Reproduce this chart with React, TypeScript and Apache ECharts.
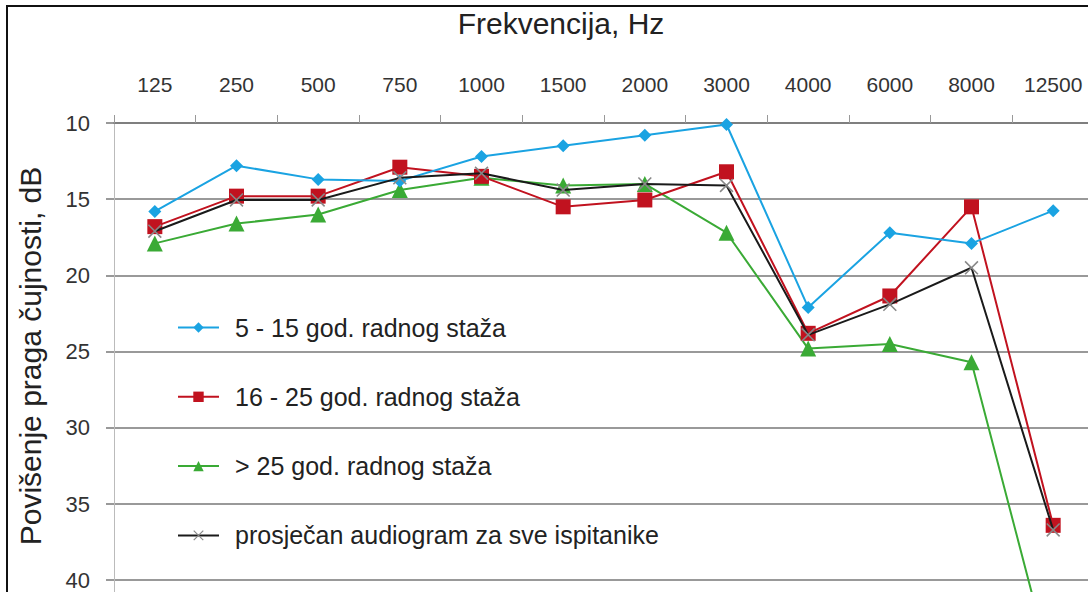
import React, { useEffect, useRef } from "react";
import * as echarts from "echarts";

const categories = ["125", "250", "500", "750", "1000", "1500", "2000", "3000", "4000", "6000", "8000", "12500"];
const seriesNames = [
  "5 - 15 god. radnog staža",
  "16 - 25 god. radnog staža",
  "> 25 god. radnog staža",
  "prosječan audiogram za sve ispitanike",
];
const blueValues = [15.8, 12.8, 13.7, 13.8, 12.2, 11.5, 10.8, 10.1, 22.1, 17.2, 17.9, 15.75];
const redValues = [16.8, 14.8, 14.8, 12.9, 13.5, 15.5, 15.05, 13.2, 23.8, 21.35, 15.5, 36.4];
const greenValues = [17.9, 16.6, 16.0, 14.4, 13.6, 14.1, 14.0, 17.2, 24.8, 24.5, 25.7, 46.2];
const blackValues = [17.1, 15.05, 15.05, 13.6, 13.3, 14.4, 14.0, 14.1, 23.9, 21.9, 19.5, 36.7];

const X_SYMBOL = "path://M0,0.8L0.8,0L10,9.2L9.2,10ZM9.2,0L10,0.8L0.8,10L0,9.2Z";

export default function App() {
  const ref = useRef<HTMLDivElement>(null);
  useEffect(() => {
    if (!ref.current) return;
    const chart = echarts.init(ref.current, null, { renderer: "svg" });
    const font = "Liberation Sans, Arial, sans-serif";
    const mk = (name: string, data: number[], color: string, symbol: string, size: number, z: number) => ({
      name,
      type: "line",
      data,
      symbol,
      symbolSize: size,
      showSymbol: true,
      lineStyle: { color, width: 2 },
      itemStyle: { color },
      z,
    });
    chart.setOption({
      animation: false,
      backgroundColor: "#fff",
      textStyle: { fontFamily: font },
      grid: {
        left: 114,
        top: 123,
        width: 980,
        height: 609.6,
        containLabel: false,
        outerBoundsMode: "none",
      },
      xAxis: {
        type: "category",
        position: "top",
        data: categories,
        boundaryGap: true,
        axisLine: { show: true, lineStyle: { color: "#777", width: 1.5 } },
        axisTick: { show: true, inside: false, length: 8, lineStyle: { color: "#999", width: 1 } },
        axisLabel: { color: "#333", fontSize: 21, margin: 28, fontFamily: font },
        splitLine: { show: false },
      },
      yAxis: {
        type: "value",
        inverse: true,
        min: 10,
        max: 50,
        interval: 5,
        axisLine: { show: true, lineStyle: { color: "#bbb", width: 1 } },
        axisTick: { show: true, inside: false, length: 8, lineStyle: { color: "#777", width: 1.5 } },
        axisLabel: {
          color: "#333",
          fontSize: 22,
          margin: 24,
          fontFamily: font,
          formatter: (v: number) => (v <= 40 ? String(v) : ""),
        },
        splitLine: { show: true, lineStyle: { color: "#777", width: 1.5 } },
      },
      legend: {
        orient: "vertical",
        left: 172,
        top: 310,
        itemWidth: 41,
        itemHeight: 13,
        itemGap: 44.3,
        data: seriesNames,
        textStyle: { color: "#222", fontSize: 25, lineHeight: 25, fontFamily: font, padding: [0, 0, 0, 11] },
      },
      graphic: [
        {
          type: "rect",
          shape: { x: 7, y: 6, width: 1200, height: 700 },
          style: { fill: "none", stroke: "#111", lineWidth: 2 },
          silent: true,
          z: 100,
        },
        {
          type: "text",
          x: 561,
          y: 23,
          style: {
            text: "Frekvencija, Hz",
            fontSize: 30,
            fontFamily: font,
            fill: "#222",
            align: "center",
            verticalAlign: "middle",
          },
        },
        {
          type: "text",
          x: 30,
          y: 356,
          rotation: Math.PI / 2,
          style: {
            text: "Povišenje praga čujnosti, dB",
            fontSize: 30,
            fontFamily: font,
            fill: "#222",
            align: "center",
            verticalAlign: "middle",
          },
        },
      ],
      series: [
        mk(seriesNames[0], blueValues, "#1aa3e2", "diamond", 13, 4),
        mk(seriesNames[1], redValues, "#c1121f", "rect", 15, 3),
        mk(seriesNames[2], greenValues, "#3aaa35", "triangle", 16, 2),
        {
          name: seriesNames[3],
          type: "line",
          data: blackValues,
          symbol: X_SYMBOL,
          symbolSize: 14,
          lineStyle: { color: "#1a1a1a", width: 2 },
          itemStyle: { color: "#888" },
          z: 5,
        },
      ],
    });
    return () => chart.dispose();
  }, []);
  return (
    <div
      ref={ref}
      style={{ position: "absolute", left: 0, top: 0, width: 1088, height: 592, overflow: "hidden" }}
    />
  );
}
